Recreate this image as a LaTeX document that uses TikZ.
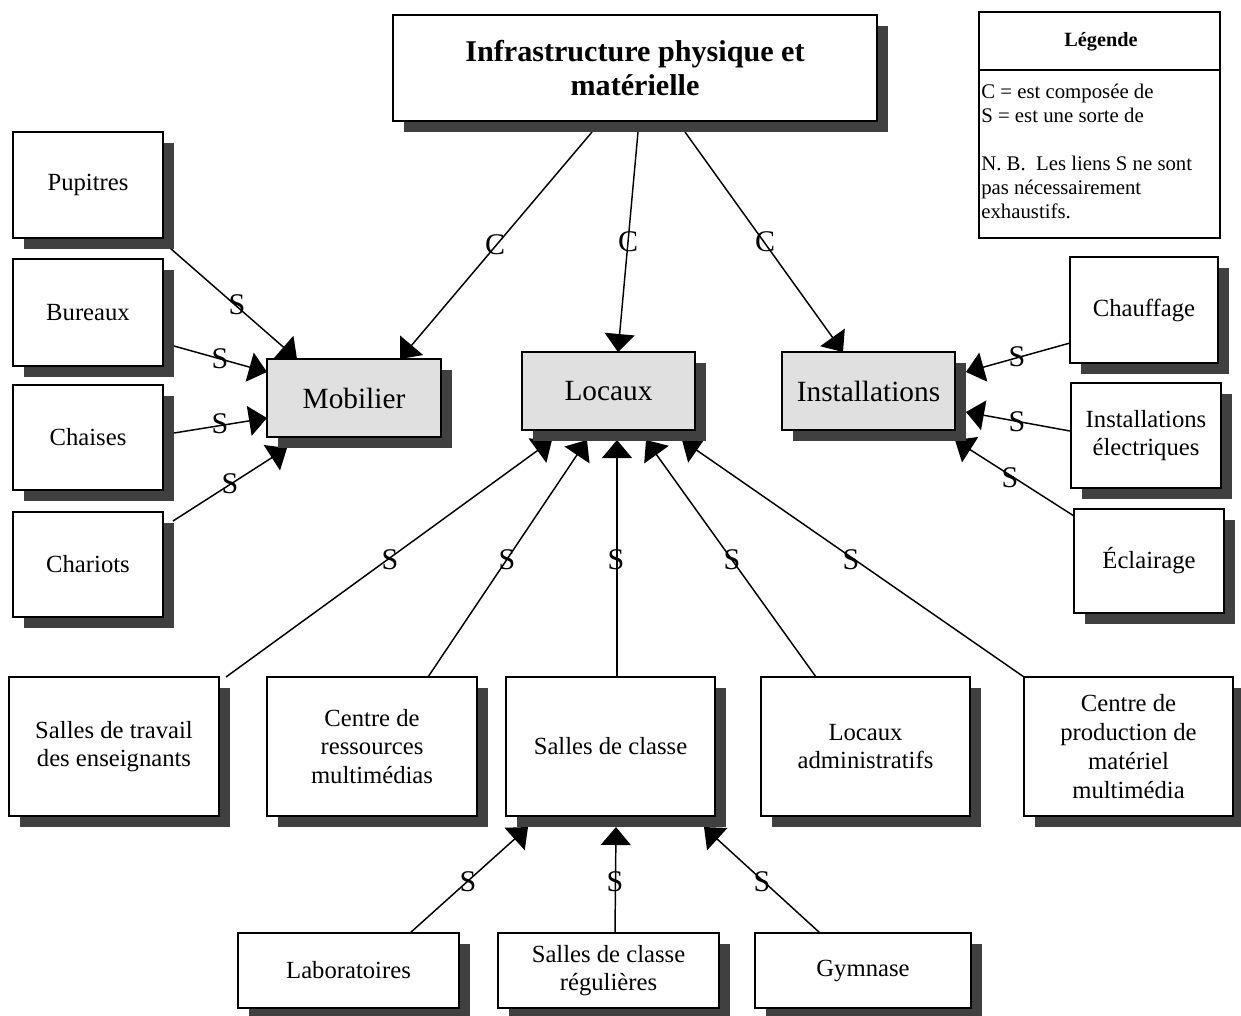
\documentclass[tikz,border=0pt]{standalone}
\usepackage{fontspec}
\setmainfont{Liberation Serif}
\usetikzlibrary{arrows.meta,shadows,calc}
\definecolor{shd}{HTML}{404040}
\definecolor{lgray}{HTML}{E0E0E0}
\pgfdeclarelayer{bg}
\pgfsetlayers{bg,main}
\newcommand\mkbox[7]{%
  \node[#6, minimum width={(#4-#2)*0.75pt}, minimum height={(#5-#3)*0.75pt}] (#1) at ({(#2+#4)/2},{(#3+#5)/2}) {#7};}
\tikzset{
  base/.style={draw, line width=1.4pt, rectangle, inner sep=0pt, outer sep=0pt, align=center,
    general shadow={fill=shd, shadow xshift=8.25pt, shadow yshift=-8.25pt}},
  wbox/.style={base, fill=white, font=\fontsize{18.5}{21.6}\selectfont},
  gbox/.style={base, fill=lgray, font=\fontsize{22}{26}\selectfont},
  tbox/.style={base, fill=white, font=\fontsize{22.6}{25.5}\selectfont\bfseries},
  lbl/.style={font=\fontsize{22.5}{26}\selectfont, inner sep=0pt},
  arr/.style={line width=1.1pt, -{Triangle[length=13.5pt,width=22.5pt]}}
}
\begin{document}
\begin{tikzpicture}[x=0.75pt,y=-0.75pt]
\begin{pgfonlayer}{bg}
\fill[white] (0,0) rectangle (1241,1015);
\end{pgfonlayer}
\useasboundingbox (0,0) rectangle (1241,1015);
% nodes
\mkbox{title}{393}{15}{877}{121}{tbox}{Infrastructure physique et\\matérielle}
\mkbox{pup}{13}{132}{163}{238}{wbox}{Pupitres}
\mkbox{bur}{13}{259}{163}{366}{wbox}{Bureaux}
\mkbox{cha}{13}{385}{163}{490}{wbox}{Chaises}
\mkbox{char}{13}{512}{163}{617}{wbox}{Chariots}
\mkbox{mob}{267}{359}{441}{437}{gbox}{Mobilier}
\mkbox{loc}{522}{352}{695}{430}{gbox}{Locaux}
\mkbox{inst}{782}{352}{955}{430}{gbox}{Installations}
\mkbox{chauf}{1070}{257}{1218}{363}{wbox}{Chauffage}
\mkbox{inel}{1071}{383}{1221}{488}{wbox}{Installations\\électriques}
\mkbox{ecl}{1074}{509}{1224}{613}{wbox}{Éclairage}
\mkbox{sdt}{9}{677}{219}{816}{wbox}{Salles de travail\\des enseignants}
\mkbox{cdr}{267}{677}{477}{816}{wbox}{Centre de\\ressources\\multimédias}
\mkbox{sdc}{506}{677}{715}{816}{wbox}{Salles de classe}
\mkbox{la}{761}{677}{970}{816}{wbox}{Locaux\\administratifs}
\mkbox{cpm}{1024}{677}{1233}{816}{wbox}{Centre de\\production de\\matériel\\multimédia}
\mkbox{lab}{238}{933}{459}{1008}{wbox}{Laboratoires}
\mkbox{reg}{498}{933}{719}{1008}{wbox}{Salles de classe\\régulières}
\mkbox{gym}{755}{933}{971}{1008}{wbox}{Gymnase}
% legend
\node[draw, line width=1.4pt, inner sep=0pt, outer sep=0pt, minimum width={241*0.75pt}, minimum height={226*0.75pt}] (legend) at (1099.5,125) {};
\draw[line width=1.4pt] ($(legend.north west)+(0,58)$) -- ($(legend.north east)+(0,58)$);
\node[font=\fontsize{15.2}{18}\selectfont\bfseries, inner sep=0pt] (legtitle) at (1101,42) {Légende};
\node[font=\fontsize{15.6}{18}\selectfont, inner sep=0pt, anchor=north west, align=left] (legtext) at (981,84)
  {C = est composée de\\S = est une sorte de\\[18pt]N. B.\ \ Les liens S ne sont\\pas nécessairement\\exhaustifs.};
% connectors
\begin{pgfonlayer}{bg}
\draw[arr] ($(title.south west)+(199,11)$) -- ($(mob.north west)+(133,0)$);
\draw[arr] ($(title.south west)+(245,11)$) -- ($(loc.north west)+(96,0)$);
\draw[arr] ($(title.south west)+(292,11)$) -- ($(inst.north west)+(61,0)$);
\draw[arr] ($(pup.south east)+(7,10)$) -- ($(mob.north west)+(30,0)$);
\draw[arr] ($(bur.south east)+(11,-20)$) -- ($(mob.north west)+(0,13)$);
\draw[arr] ($(cha.south east)+(11,-57)$) -- ($(mob.north west)+(0,59)$);
\draw[arr] ($(char.north east)+(10,9)$) -- ($(mob.south west)+(20,11)$);
\draw[arr] ($(chauf.south west)+(0,-20)$) -- ($(inst.north east)+(11,20)$);
\draw[arr] ($(inel.south west)+(-1,-57)$) -- ($(inst.north east)+(11,60)$);
\draw[arr] ($(ecl.north west)+(0,7)$) -- ($(inst.south east)+(0,10)$);
\draw[arr] ($(sdt.north east)+(7,0)$) -- ($(loc.south west)+(30,10)$);
\draw[arr] ($(cdr.north west)+(161,0)$) -- ($(loc.south west)+(65,10)$);
\draw[arr] ($(sdc.north west)+(111,0)$) -- ($(loc.south west)+(95,10)$);
\draw[arr] ($(la.north west)+(55,0)$) -- ($(loc.south west)+(124,10)$);
\draw[arr] (cpm.north west) -- ($(loc.south west)+(160,10)$);
\draw[arr] ($(lab.north west)+(172,0)$) -- ($(sdc.south west)+(22,11)$);
\draw[arr] ($(reg.north west)+(117,0)$) -- ($(sdc.south west)+(110,11)$);
\draw[arr] ($(gym.north west)+(65,0)$) -- ($(sdc.south west)+(198,11)$);
\end{pgfonlayer}
% labels
\node[lbl] (c1) at (495,245) {C};
\node[lbl] (c2) at (628,242) {C};
\node[lbl] (c3) at (765,242) {C};
\node[lbl] (s1) at (237,305) {S};
\node[lbl] (s2) at (220,359) {S};
\node[lbl] (s3) at (220,424) {S};
\node[lbl] (s4) at (230,484) {S};
\node[lbl] (s5) at (1017,357) {S};
\node[lbl] (s6) at (1017,422) {S};
\node[lbl] (s7) at (1010,478) {S};
\node[lbl] (s8) at (390,560) {S};
\node[lbl] (s9) at (507,560) {S};
\node[lbl] (s10) at (616,560) {S};
\node[lbl] (s11) at (732,560) {S};
\node[lbl] (s12) at (851,560) {S};
\node[lbl] (s13) at (468,882) {S};
\node[lbl] (s14) at (615,882) {S};
\node[lbl] (s15) at (762,882) {S};
\end{tikzpicture}
\end{document}
